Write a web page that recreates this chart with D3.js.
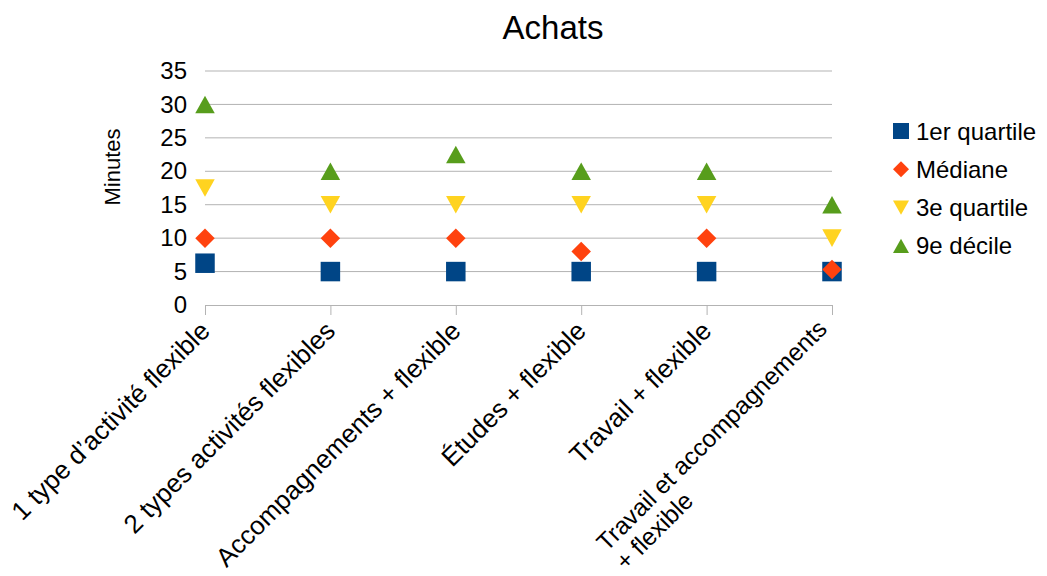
<!DOCTYPE html>
<html><head><meta charset="utf-8">
<script src="https://cdn.jsdelivr.net/npm/d3@7"></script>
<style>
body{margin:0;background:#fff;}
text{font-family:"Liberation Sans",Arial,sans-serif;fill:#000;}
</style></head>
<body>
<svg id="c" width="1047" height="576"></svg>
<script>
const categories = [
  ["1 type d’activité flexible"],
  ["2 types activités flexibles"],
  ["Accompagnements + flexible"],
  ["Études + flexible"],
  ["Travail + flexible"],
  ["Travail et accompagnements", "+ flexible"]
];
const seriesNames = ["1er quartile", "Médiane", "3e quartile", "9e décile"];
const q1 = [6.25, 5, 5, 5, 5, 5];
const mediane = [10, 10, 10, 8, 10, 5.3];
const q3 = [17.5, 15, 15, 15, 15, 10];
const d9 = [30, 20, 22.5, 20, 20, 15];
const yTicks = [0, 5, 10, 15, 20, 25, 30, 35];
const colors = ["#004586", "#ff420e", "#ffd320", "#579d1c"];
const shapes = ["square", "diamond", "down", "up"];

const series = [q1, mediane, q3, d9];

(function () {
const svg = d3.select("#c");
const pLeft = 205, pRight = 832, pTop = 71, pBottom = 305;

const x = d3.scalePoint().domain(d3.range(categories.length)).range([pLeft, pRight]);
const y = d3.scaleLinear().domain([0, 35]).range([pBottom, pTop]);

// title
svg.append("text").attr("x", 553).attr("y", 39).attr("text-anchor", "middle")
  .style("font-size", "33px").text("Achats");

// gridlines
svg.append("g").selectAll("line").data(yTicks.filter(d => d > 0)).join("line")
  .attr("x1", pLeft).attr("x2", pRight)
  .attr("y1", d => y(d)).attr("y2", d => y(d))
  .attr("stroke", "#b3b3b3").attr("stroke-width", 1);

// y axis labels
const ya = svg.append("g").attr("transform", `translate(${pLeft},0)`)
  .call(d3.axisLeft(y).tickValues(yTicks).tickSize(0).tickPadding(18).tickFormat(d3.format("d")));
ya.select(".domain").remove();
ya.selectAll("text").style("font-size", "24px").attr("font-family", null);

// x axis
const xa = svg.append("g").attr("transform", `translate(0,${pBottom})`)
  .call(d3.axisBottom(x).tickSize(10).tickFormat(""));
xa.select(".domain").attr("stroke", "#b3b3b3").attr("d", `M${pLeft},0.5H${pRight}`);
xa.selectAll(".tick line").attr("stroke", "#b3b3b3");

// x labels
const lblG = svg.append("g");
categories.forEach((lines, i) => {
  const n = lines.length;
  const fs = n > 1 ? 24.5 : 26;
  const g = lblG.append("g")
    .attr("transform", `translate(${x(i)},${pBottom}) rotate(-45)`);
  const texts = lines.map((s, k) => g.append("text").style("font-size", fs + "px")
      .attr("text-anchor", "start").text(s));
  const wmax = d3.max(texts, t => t.node().getComputedTextLength());
  const endX = n > 1 ? -20.5 : -15;
  const base0 = n > 1 ? 15.5 : 24;
  texts.forEach((t, k) => t.attr("x", endX - wmax).attr("y", base0 + k * 27));
});

// y axis title
svg.append("text").attr("transform", "translate(120,167) rotate(-90)")
  .attr("text-anchor", "middle").style("font-size", "22px").text("Minutes");

// marker path generator
function markerPath(shape, s) {
  const h = s / 2;
  const p = d3.path();
  if (shape === "square") { p.rect(-h, -h, s, s); }
  else if (shape === "diamond") { p.moveTo(0, -h); p.lineTo(h, 0); p.lineTo(0, h); p.lineTo(-h, 0); p.closePath(); }
  else if (shape === "down") { const th = s * 0.9; p.moveTo(-h, -th / 2); p.lineTo(h, -th / 2); p.lineTo(0, th / 2); p.closePath(); }
  else { const th = s * 0.9; p.moveTo(-h, th / 2); p.lineTo(h, th / 2); p.lineTo(0, -th / 2); p.closePath(); }
  return p.toString();
}

// points
series.forEach((vals, si) => {
  svg.append("g").selectAll("path").data(vals).join("path")
    .attr("transform", (d, i) => `translate(${x(i)},${y(d)})`)
    .attr("d", markerPath(shapes[si], 19.5))
    .attr("fill", colors[si]);
});

// legend
const lg = svg.append("g");
seriesNames.forEach((name, si) => {
  const cy = 131 + si * 38.3;
  lg.append("path").attr("transform", `translate(901,${cy})`)
    .attr("d", markerPath(shapes[si], 16)).attr("fill", colors[si]);
  lg.append("text").attr("x", 916).attr("y", cy + 8.5).style("font-size", "24px").text(name);
});
})();
</script>
</body></html>
